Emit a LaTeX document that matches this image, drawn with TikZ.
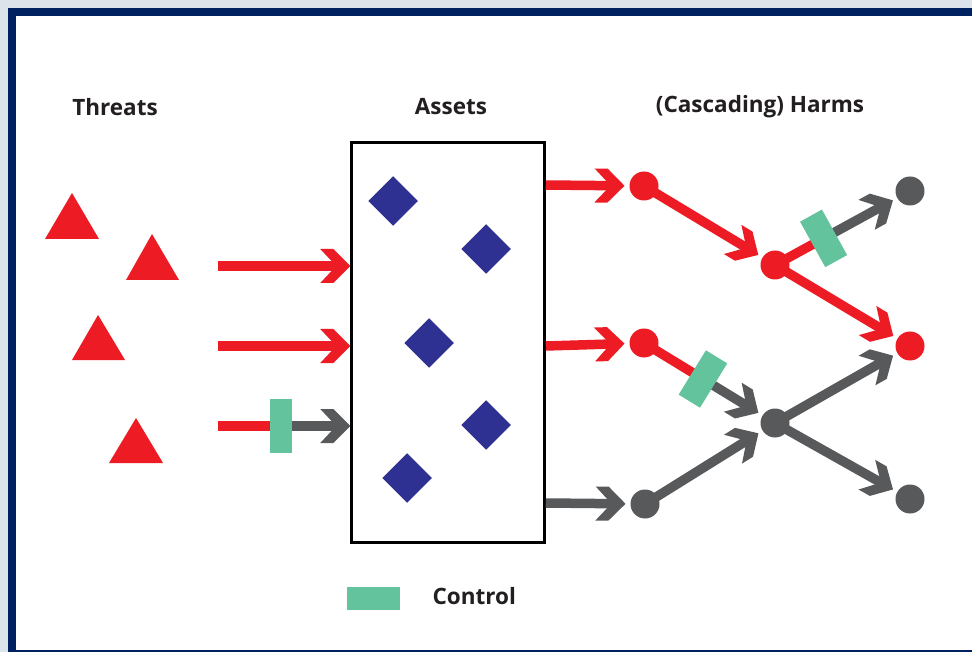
\documentclass[tikz,border=0pt]{standalone}
\usepackage{fontspec}
\setmainfont{Open Sans}
\usetikzlibrary{arrows.meta,calc}
\definecolor{hred}{RGB}{237,28,36}
\definecolor{hgray}{RGB}{88,89,91}
\definecolor{hgreen}{RGB}{99,195,157}
\definecolor{hblue}{RGB}{46,49,146}
\definecolor{navy}{RGB}{0,33,96}
\definecolor{outer}{RGB}{221,227,234}
\definecolor{txt}{RGB}{35,31,32}
\pgfdeclarearrow{
  name = Chev,
  setup code = {
    \pgfarrowssettipend{0pt}
    \pgfarrowssetlineend{-9pt}
    \pgfarrowssetbackend{-30pt}
    \pgfarrowsupperhullpoint{0pt}{0pt}
    \pgfarrowsupperhullpoint{-17pt}{17pt}
    \pgfarrowsupperhullpoint{-30pt}{17pt}
  },
  drawing code = {
    \pgfpathmoveto{\pgfqpoint{0pt}{0pt}}
    \pgfpathlineto{\pgfqpoint{-17pt}{17pt}}
    \pgfpathlineto{\pgfqpoint{-30pt}{17pt}}
    \pgfpathlineto{\pgfqpoint{-14pt}{0pt}}
    \pgfpathlineto{\pgfqpoint{-30pt}{-17pt}}
    \pgfpathlineto{\pgfqpoint{-17pt}{-17pt}}
    \pgfpathclose
    \pgfusepathqfill
  }
}
\begin{document}
\begin{tikzpicture}[x=1pt,y=-1pt,
  lbl/.style={font=\bfseries\fontsize{22.5}{26}\selectfont, text=txt},
  arr/.style={line width=9.5pt, -Chev},
  seg/.style={line width=9.5pt},
  harm/.style={circle, fill=#1, minimum size=29pt, inner sep=0pt, outer sep=5pt},
  ctrl/.style={fill=hgreen, minimum width=25pt, minimum height=52pt, inner sep=0pt},
  gem/.style={fill=hblue, minimum size=35pt, inner sep=0pt, rotate=45},
  threat/.style={fill=hred}
]
\useasboundingbox (0,0) rectangle (972,652);
\fill[outer] (0,0) rectangle (972,652);
\fill[navy] (8,8) rectangle (972,652);
\fill[white] (16,16) rectangle (972,650);

% titles
\node[lbl] (tT) at (115,107) {Threats};
\node[lbl] (tA) at (451,107) {Assets};
\node[lbl] (tH) at (760,107) {(Cascading) Harms};

% threats
\fill[threat] (45,239) -- (72,193) -- (99,239) -- cycle;
\fill[threat] (126,280) -- (152,234) -- (179,280) -- cycle;
\fill[threat] (72,360) -- (98,315) -- (125,360) -- cycle;
\fill[threat] (109,463) -- (136,418) -- (163,463) -- cycle;

% assets box
\node[draw=black, line width=2.5pt, minimum width=193pt, minimum height=400pt, inner sep=0pt] (box) at (448,342.5) {};
\node[gem] (d1) at (393,201) {};
\node[gem] (d2) at (486,249) {};
\node[gem] (d3) at (429,343) {};
\node[gem] (d4) at (486,425) {};
\node[gem] (d5) at (407,478) {};

% left arrows
\coordinate (s1) at (218,266);
\coordinate (s2) at (218,346);
\coordinate (s3) at (218,426);
\coordinate (c0) at (281,426);
\draw[arr, hred] (s1) -- (s1 -| box.west);
\draw[arr, hred] (s2) -- (s2 -| box.west);
\draw[seg, hred] (s3) -- (c0);
\draw[arr, hgray] (c0) -- (s3 -| box.west);
\node[ctrl, minimum width=22pt, minimum height=54pt] (k0) at (c0) {};

% harms
\node[harm=hred] (h1) at (644,186) {};
\node[harm=hred] (h2) at (644,343) {};
\node[harm=hgray] (h3) at (645,504) {};
\node[harm=hred] (h4) at (775,265) {};
\node[harm=hgray] (h5) at (775,423) {};
\node[harm=hgray] (h6) at (910,191) {};
\node[harm=hred] (h7) at (910,346) {};
\node[harm=hgray] (h8) at (910,499) {};

\coordinate (b1) at (box.east |- 0,185);
\coordinate (b2) at (box.east |- 0,346);
\coordinate (b3) at (box.east |- 0,503);
\draw[arr, hred] (b1) -- (h1);
\draw[arr, hred] (b2) -- (h2);
\draw[arr, hgray] (b3) -- (h3);

\draw[arr, hred] (h1.center) -- (h4);
\coordinate (c1) at ($(h4.center)!0.36!(h6.center)$);
\draw[seg, hred] (h4.center) -- (c1);
\draw[arr, hgray] (c1) -- (h6);
\node[ctrl, rotate=29] (k1) at (c1) {};
\draw[arr, hred] (h4.center) -- (h7);

\coordinate (c2) at ($(h2.center)!0.45!(h5.center)$);
\draw[seg, hred] (h2.center) -- (c2);
\draw[arr, hgray] (c2) -- (h5);
\node[ctrl, rotate=-31.6] (k2) at (c2) {};
\draw[arr, hgray] (h3.center) -- (h5);
\draw[arr, hgray] (h5.center) -- (h7);
\draw[arr, hgray] (h5.center) -- (h8);

% legend
\node[fill=hgreen, minimum width=53pt, minimum height=23pt, inner sep=0pt] (leg) at (373.5,598) {};
\node[lbl, anchor=west] (legt) at (429,596) {Control};
\end{tikzpicture}
\end{document}
